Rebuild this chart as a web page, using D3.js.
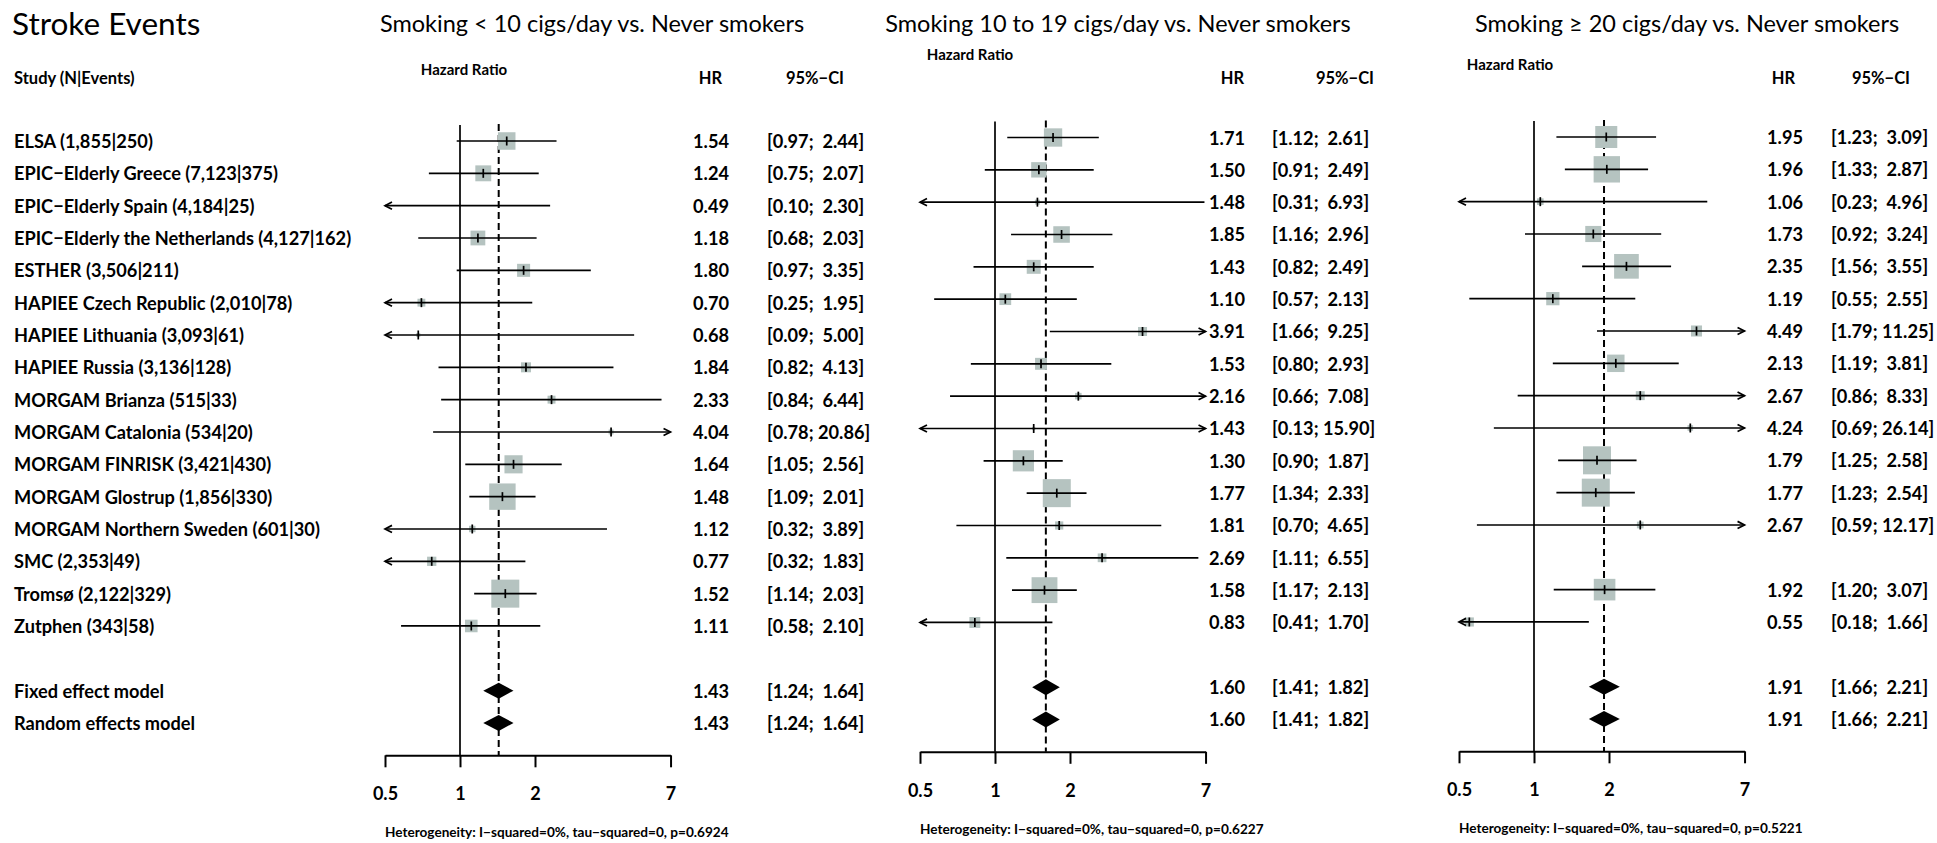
<!DOCTYPE html>
<html>
<head>
<meta charset="utf-8">
<script src="https://cdn.jsdelivr.net/npm/d3@7"></script>
<style>
  body { margin: 0; background: #fff; }
  svg text { font-family: Lato, "Open Sans", sans-serif; white-space: pre; fill: #000; }
</style>
</head>
<body>
<svg id="chart" width="1937" height="843"></svg>
<script>
// ---- data -------------------------------------------------------------
const studies = [
  "ELSA (1,855|250)",
  "EPIC−Elderly Greece (7,123|375)",
  "EPIC−Elderly Spain (4,184|25)",
  "EPIC−Elderly the Netherlands (4,127|162)",
  "ESTHER (3,506|211)",
  "HAPIEE Czech Republic (2,010|78)",
  "HAPIEE Lithuania (3,093|61)",
  "HAPIEE Russia (3,136|128)",
  "MORGAM Brianza (515|33)",
  "MORGAM Catalonia (534|20)",
  "MORGAM FINRISK (3,421|430)",
  "MORGAM Glostrup (1,856|330)",
  "MORGAM Northern Sweden (601|30)",
  "SMC (2,353|49)",
  "Tromsø (2,122|329)",
  "Zutphen (343|58)"
];
const modelLabels = ["Fixed effect model", "Random effects model"];
const panelTitles = [
  "Smoking < 10 cigs/day vs. Never smokers",
  "Smoking 10 to 19 cigs/day vs. Never smokers",
  "Smoking ≥ 20 cigs/day vs. Never smokers"
];

// < 10 cigs/day
const hrLow = [1.54, 1.24, 0.49, 1.18, 1.80, 0.70, 0.68, 1.84, 2.33, 4.04, 1.64, 1.48, 1.12, 0.77, 1.52, 1.11];
const loLow = [0.97, 0.75, 0.10, 0.68, 0.97, 0.25, 0.09, 0.82, 0.84, 0.78, 1.05, 1.09, 0.32, 0.32, 1.14, 0.58];
const hiLow = [2.44, 2.07, 2.30, 2.03, 3.35, 1.95, 5.00, 4.13, 6.44, 20.86, 2.56, 2.01, 3.89, 1.83, 2.03, 2.10];

// 10 to 19 cigs/day
const hrMid = [1.71, 1.50, 1.48, 1.85, 1.43, 1.10, 3.91, 1.53, 2.16, 1.43, 1.30, 1.77, 1.81, 2.69, 1.58, 0.83];
const loMid = [1.12, 0.91, 0.31, 1.16, 0.82, 0.57, 1.66, 0.80, 0.66, 0.13, 0.90, 1.34, 0.70, 1.11, 1.17, 0.41];
const hiMid = [2.61, 2.49, 6.93, 2.96, 2.49, 2.13, 9.25, 2.93, 7.08, 15.90, 1.87, 2.33, 4.65, 6.55, 2.13, 1.70];

// >= 20 cigs/day (no estimate for SMC)
const hrHigh = [1.95, 1.96, 1.06, 1.73, 2.35, 1.19, 4.49, 2.13, 2.67, 4.24, 1.79, 1.77, 2.67, null, 1.92, 0.55];
const loHigh = [1.23, 1.33, 0.23, 0.92, 1.56, 0.55, 1.79, 1.19, 0.86, 0.69, 1.25, 1.23, 0.59, null, 1.20, 0.18];
const hiHigh = [3.09, 2.87, 4.96, 3.24, 3.55, 2.55, 11.25, 3.81, 8.33, 26.14, 2.58, 2.54, 12.17, null, 3.07, 1.66];

// pooled estimates (fixed and random models are identical here)
const pooledHR = [1.43, 1.60, 1.91];
const pooledLo = [1.24, 1.41, 1.66];
const pooledHi = [1.64, 1.82, 2.21];

const hetText = [
  "Heterogeneity: I−squared=0%, tau−squared=0, p=0.6924",
  "Heterogeneity: I−squared=0%, tau−squared=0, p=0.6227",
  "Heterogeneity: I−squared=0%, tau−squared=0, p=0.5221"
];
const tickValues = [0.5, 1, 2, 7];

// ---- layout -----------------------------------------------------------
const svg = d3.select("#chart");
const xDomain = [0.5, 7];
const perDoubling = 75;
const panels = [
  { hr: hrLow,  lo: loLow,  hi: hiLow,  x1: 460,  dy: 0,    hrRight: 729,  hrHeadRight: 722,  ciLeft: 767,  ciHeadRight: 844,  hzX: 464,  hzY: 69 },
  { hr: hrMid,  lo: loMid,  hi: hiMid,  x1: 995,  dy: -3.5, hrRight: 1245, hrHeadRight: 1244, ciLeft: 1272, ciHeadRight: 1374, hzX: 970,  hzY: 54 },
  { hr: hrHigh, lo: loHigh, hi: hiHigh, x1: 1534, dy: -4,   hrRight: 1803, hrHeadRight: 1795, ciLeft: 1831, ciHeadRight: 1910, hzX: 1510, hzY: 64 }
];
const titleCenters = [592, 1118, 1687];

const rowScale = d3.scaleLinear().domain([0, 19]).range([141, 755.3]);
const fixedRow = 17, randomRow = 18, axisRow = 19;
const maxSquare = 28;
const squareFill = "#b5c3c0";
const labelSize = 18.2;

const fmt = d3.format(".2f");
const ciString = (lo, hi) => {
  const up = fmt(hi);
  return "[" + fmt(lo) + "; " + (hi < 10 ? " " : "") + up + "]";
};

// figure title and study column
svg.append("text")
  .attr("x", 12).attr("y", 23)
  .attr("dominant-baseline", "central")
  .style("font-size", "31.5px")
  .text("Stroke Events");

svg.append("text")
  .attr("x", 14).attr("y", rowScale(0) - 63)
  .attr("dominant-baseline", "central")
  .style("font-size", "16.5px").style("font-weight", "bold")
  .text("Study (N|Events)");

svg.selectAll("text.study")
  .data(studies)
  .join("text")
  .attr("class", "study")
  .attr("x", 14)
  .attr("y", (d, i) => rowScale(i))
  .attr("dominant-baseline", "central")
  .style("font-size", labelSize + "px").style("font-weight", "bold")
  .text(d => d);

svg.selectAll("text.model")
  .data(modelLabels)
  .join("text")
  .attr("class", "model")
  .attr("x", 14)
  .attr("y", (d, i) => rowScale(fixedRow + i))
  .attr("dominant-baseline", "central")
  .style("font-size", labelSize + "px").style("font-weight", "bold")
  .text(d => d);

// arrowhead helper (open chevron)
function arrow(g, xTip, y, dir) {
  const len = 7, half = 3.6;
  g.append("path")
    .attr("d", `M${xTip - dir * len},${y - half}L${xTip},${y}L${xTip - dir * len},${y + half}`)
    .attr("fill", "none").attr("stroke", "#000").attr("stroke-width", 1.7);
}

panels.forEach((p, pi) => {
  const x = d3.scaleLog().domain(xDomain)
    .range([p.x1 - perDoubling, p.x1 + perDoubling * Math.log2(7)]);
  const y = v => rowScale(v) + p.dy;
  const g = svg.append("g").attr("class", "panel");

  // panel title
  g.append("text")
    .attr("x", titleCenters[pi]).attr("y", 23)
    .attr("text-anchor", "middle").attr("dominant-baseline", "central")
    .style("font-size", "23.5px")
    .text(panelTitles[pi]);

  // column headers
  g.append("text")
    .attr("x", p.hzX).attr("y", p.hzY)
    .attr("text-anchor", "middle").attr("dominant-baseline", "central")
    .style("font-size", "15px").style("font-weight", "bold")
    .text("Hazard Ratio");
  g.append("text")
    .attr("x", p.hrHeadRight).attr("y", rowScale(0) - 63)
    .attr("text-anchor", "end").attr("dominant-baseline", "central")
    .style("font-size", "16.5px").style("font-weight", "bold")
    .text("HR");
  g.append("text")
    .attr("x", p.ciHeadRight).attr("y", rowScale(0) - 63)
    .attr("text-anchor", "end").attr("dominant-baseline", "central")
    .style("font-size", "16.5px").style("font-weight", "bold")
    .text("95%−CI");

  // reference line at HR = 1
  const top = y(0) - 16;
  g.append("line")
    .attr("x1", x(1)).attr("x2", x(1))
    .attr("y1", top).attr("y2", y(axisRow))
    .attr("stroke", "#000").attr("stroke-width", 1.7);

  // dashed line at the pooled estimate
  g.append("line")
    .attr("x1", x(pooledHR[pi])).attr("x2", x(pooledHR[pi]))
    .attr("y1", top - 1).attr("y2", y(axisRow))
    .attr("stroke", "#000").attr("stroke-width", 2)
    .attr("stroke-dasharray", "7,4");

  // study weights from the confidence interval widths (inverse variance)
  const idx = d3.range(studies.length).filter(i => p.hr[i] != null);
  const weight = i => {
    const se = (Math.log(p.hi[i]) - Math.log(p.lo[i])) / (2 * 1.959964);
    return 1 / (se * se);
  };
  const wMax = d3.max(idx, weight);

  idx.forEach(i => {
    const yy = y(i);
    const inside = p.hr[i] >= xDomain[0] && p.hr[i] <= xDomain[1];
    if (inside) {
      const s = maxSquare * Math.sqrt(weight(i) / wMax);
      g.append("rect")
        .attr("x", x(p.hr[i]) - s / 2).attr("y", yy - s / 2)
        .attr("width", s).attr("height", s)
        .attr("fill", squareFill);
    }
    const lx = Math.max(p.lo[i], xDomain[0]);
    const rx = Math.min(p.hi[i], xDomain[1]);
    g.append("line")
      .attr("x1", x(lx)).attr("x2", x(rx))
      .attr("y1", yy).attr("y2", yy)
      .attr("stroke", "#000").attr("stroke-width", 1.7);
    if (p.lo[i] < xDomain[0]) arrow(g, x(xDomain[0]), yy, -1);
    if (p.hi[i] > xDomain[1]) arrow(g, x(xDomain[1]), yy, 1);
    if (inside) {
      g.append("line")
        .attr("x1", x(p.hr[i])).attr("x2", x(p.hr[i]))
        .attr("y1", yy - 4.5).attr("y2", yy + 4.5)
        .attr("stroke", "#000").attr("stroke-width", 1.7);
    }
    g.append("text")
      .attr("x", p.hrRight).attr("y", yy)
      .attr("text-anchor", "end").attr("dominant-baseline", "central")
      .style("font-size", labelSize + "px").style("font-weight", "bold")
      .text(fmt(p.hr[i]));
    g.append("text")
      .attr("x", p.ciLeft).attr("y", yy)
      .attr("dominant-baseline", "central")
      .style("font-size", labelSize + "px").style("font-weight", "bold")
      .text(ciString(p.lo[i], p.hi[i]));
  });

  // pooled diamonds (fixed and random)
  [fixedRow, randomRow].forEach(r => {
    const yy = y(r), h = 8;
    g.append("path")
      .attr("d", `M${x(pooledLo[pi])},${yy}L${x(pooledHR[pi])},${yy - h}L${x(pooledHi[pi])},${yy}L${x(pooledHR[pi])},${yy + h}Z`)
      .attr("fill", "#000");
    g.append("text")
      .attr("x", p.hrRight).attr("y", yy)
      .attr("text-anchor", "end").attr("dominant-baseline", "central")
      .style("font-size", labelSize + "px").style("font-weight", "bold")
      .text(fmt(pooledHR[pi]));
    g.append("text")
      .attr("x", p.ciLeft).attr("y", yy)
      .attr("dominant-baseline", "central")
      .style("font-size", labelSize + "px").style("font-weight", "bold")
      .text(ciString(pooledLo[pi], pooledHi[pi]));
  });

  // x axis
  const axis = d3.axisBottom(x)
    .tickValues(tickValues)
    .tickFormat(d => String(d))
    .tickSizeInner(12).tickSizeOuter(0).tickPadding(20);
  const ag = g.append("g")
    .attr("transform", `translate(0,${y(axisRow)})`)
    .call(axis);
  ag.select(".domain").attr("stroke", "#000").attr("stroke-width", 2);
  ag.selectAll(".tick line").attr("stroke", "#000").attr("stroke-width", 2);
  ag.selectAll(".tick text")
    .attr("fill", "#000")
    .style("font-family", "Lato, 'Open Sans', sans-serif")
    .style("font-size", "18px").style("font-weight", "bold");

  // heterogeneity statistics
  g.append("text")
    .attr("x", x(xDomain[0])).attr("y", 832 + p.dy)
    .attr("dominant-baseline", "central")
    .style("font-size", "13.6px").style("font-weight", "bold")
    .text(hetText[pi]);
});
</script>
</body>
</html>
